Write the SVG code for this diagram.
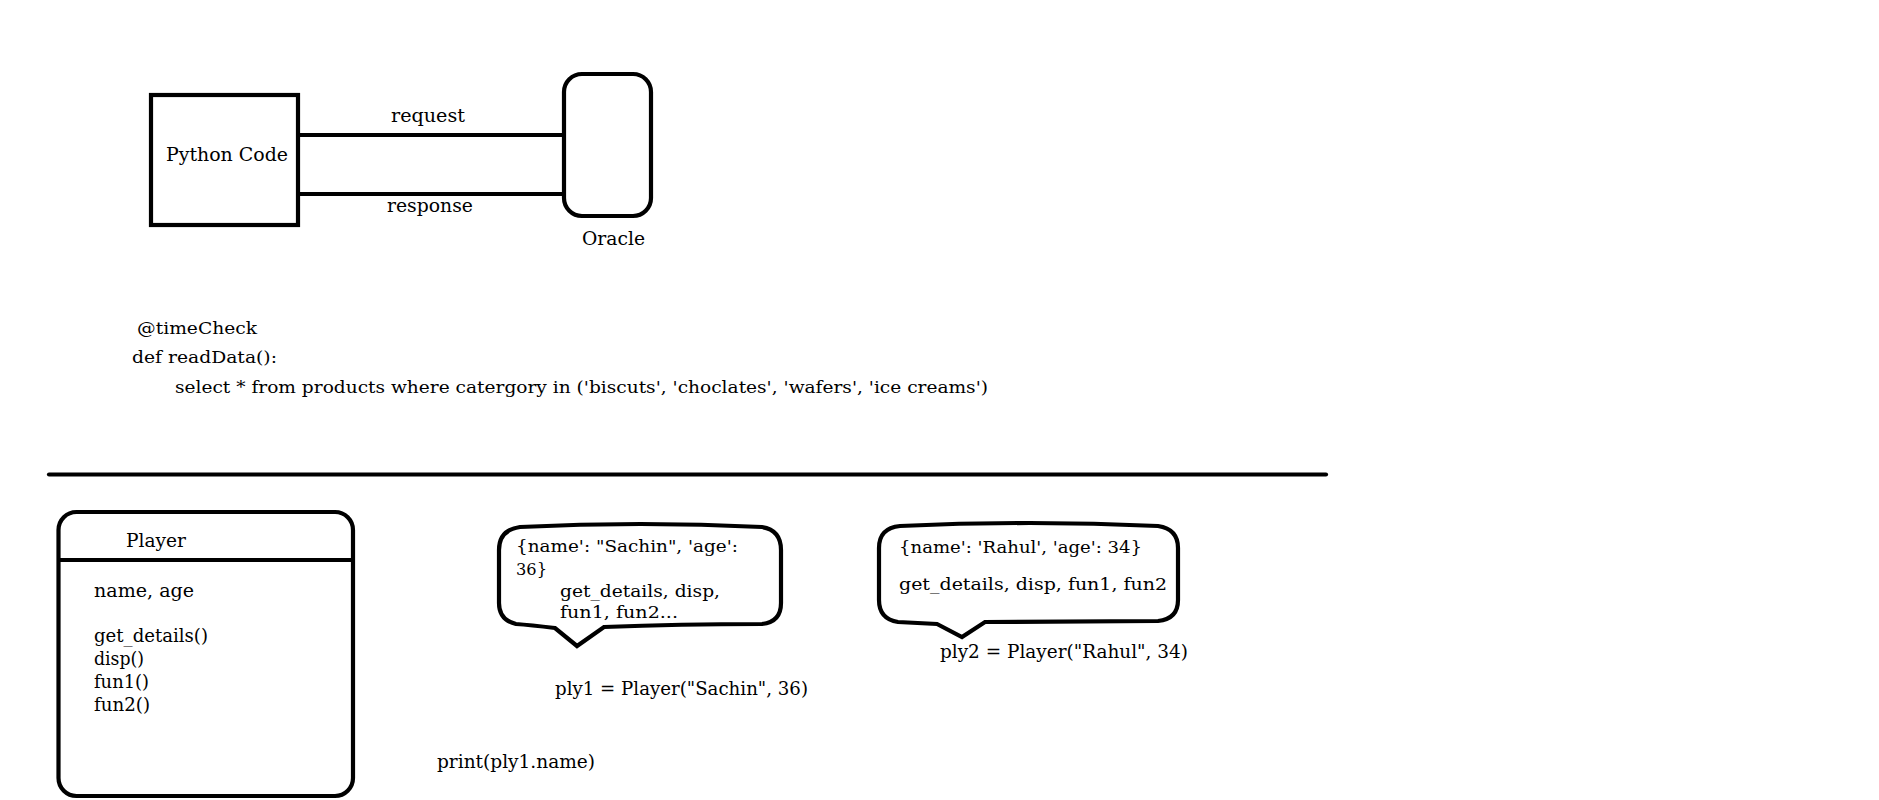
<svg xmlns="http://www.w3.org/2000/svg" width="1879" height="800" viewBox="0 0 1879 800">
<style>
.s{fill:none;stroke:#000;stroke-width:4.2}
text{font-family:"DejaVu Serif","Liberation Serif",serif;fill:#000}
.t19{font-size:19px}
.t18{font-size:18px}
.t17{font-size:17px}
.t16{font-size:16px}
</style>
<rect width="1879" height="800" fill="#fff"/>
<g id="python-code">
<rect class="s" x="151" y="95" width="147" height="130"/>
<text class="t19" x="166" y="161" textLength="122" lengthAdjust="spacingAndGlyphs">Python Code</text>
</g>
<g id="oracle">
<rect class="s" x="564" y="74" width="87" height="142" rx="18" ry="18"/>
<text class="t18" x="582" y="245" textLength="63" lengthAdjust="spacingAndGlyphs">Oracle</text>
</g>
<g id="connectors">
<line class="s" x1="298" y1="135" x2="564" y2="135"/>
<line class="s" x1="298" y1="194" x2="564" y2="194"/>
<text class="t18" x="391" y="122" textLength="74" lengthAdjust="spacingAndGlyphs">request</text>
<text class="t18" x="387" y="212" textLength="86" lengthAdjust="spacingAndGlyphs">response</text>
</g>
<g id="code">
<text class="t17" x="137" y="334" textLength="120" lengthAdjust="spacingAndGlyphs">@timeCheck</text>
<text class="t17" x="132" y="363" textLength="145" lengthAdjust="spacingAndGlyphs">def readData():</text>
<text class="t17" x="175" y="393" textLength="813" lengthAdjust="spacingAndGlyphs">select * from products where catergory in ('biscuts', 'choclates', 'wafers', 'ice creams')</text>
</g>
<g id="divider">
<line class="s" x1="49" y1="474.5" x2="1326" y2="474.5" stroke-linecap="round"/>
</g>
<g id="player-class">
<rect class="s" x="58.5" y="512" width="294.5" height="284" rx="18" ry="18"/>
<line class="s" x1="58.5" y1="560" x2="353" y2="560"/>
<text class="t18" x="126" y="547" textLength="60" lengthAdjust="spacingAndGlyphs">Player</text>
<text class="t18" x="94" y="597" textLength="100" lengthAdjust="spacingAndGlyphs">name, age</text>
<text class="t18" x="94" y="642" textLength="114" lengthAdjust="spacingAndGlyphs">get_details()</text>
<text class="t18" x="94" y="665" textLength="50" lengthAdjust="spacingAndGlyphs">disp()</text>
<text class="t18" x="94" y="688" textLength="55" lengthAdjust="spacingAndGlyphs">fun1()</text>
<text class="t18" x="94" y="711" textLength="56" lengthAdjust="spacingAndGlyphs">fun2()</text>
</g>
<g id="ply1-bubble">
<path class="s" d="M 520 527 Q 640 521 762 527 Q 781 530 781 550 L 781 603 Q 781 622 762 624 Q 680 624 604 627 L 577 646 L 555 628 Q 530 625 516 624 Q 499 620 499 603 L 499 550 Q 499 530 520 527 Z"/>
<text class="t16" x="516" y="552" textLength="222" lengthAdjust="spacingAndGlyphs">{name': "Sachin", 'age':</text>
<text class="t16" x="516" y="575" textLength="31" lengthAdjust="spacingAndGlyphs">36}</text>
<text class="t16" x="560" y="597" textLength="160" lengthAdjust="spacingAndGlyphs">get_details, disp,</text>
<text class="t16" x="560" y="618" textLength="118" lengthAdjust="spacingAndGlyphs">fun1, fun2...</text>
</g>
<g id="ply1">
<text class="t18" x="555" y="695" textLength="253" lengthAdjust="spacingAndGlyphs">ply1 = Player("Sachin", 36)</text>
</g>
<g id="ply2-bubble">
<path class="s" d="M 900 526 Q 1030 520 1158 526 Q 1178 529 1178 548 L 1178 600 Q 1178 619 1158 621 L 985 622 L 962 637 L 937 624 L 898 622 Q 879 619 879 600 L 879 548 Q 879 528 900 526 Z"/>
<text class="t16" x="899" y="553" textLength="243" lengthAdjust="spacingAndGlyphs">{name': 'Rahul', 'age': 34}</text>
<text class="t16" x="899" y="590" textLength="268" lengthAdjust="spacingAndGlyphs">get_details, disp, fun1, fun2</text>
</g>
<g id="ply2">
<text class="t18" x="940" y="658" textLength="248" lengthAdjust="spacingAndGlyphs">ply2 = Player("Rahul", 34)</text>
</g>
<g id="print">
<text class="t18" x="437" y="768" textLength="158" lengthAdjust="spacingAndGlyphs">print(ply1.name)</text>
</g>
</svg>
